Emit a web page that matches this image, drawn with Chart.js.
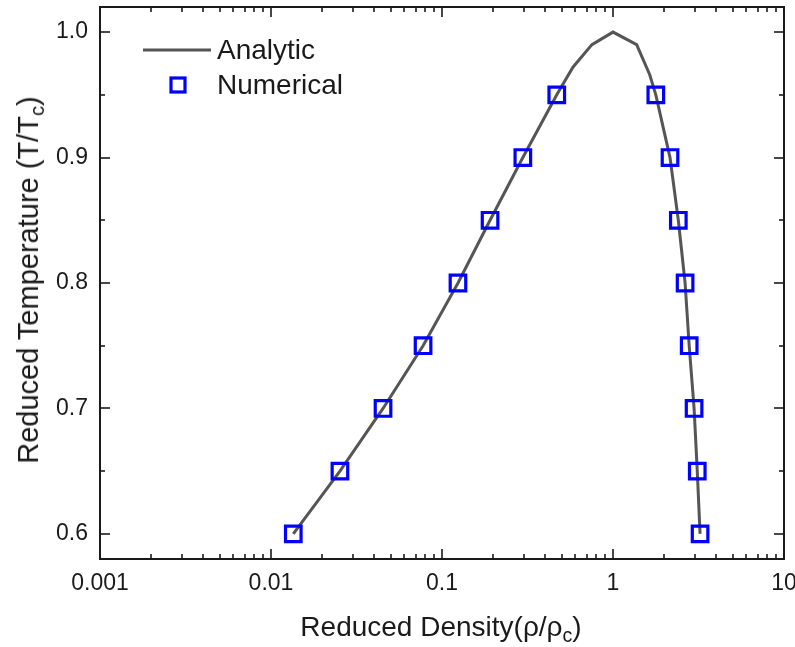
<!DOCTYPE html>
<html>
<head>
<meta charset="utf-8">
<script src="https://cdn.jsdelivr.net/npm/chart.js@4.4.1/dist/chart.umd.min.js"></script>
<style>
  html, body { margin: 0; padding: 0; background: #fff; overflow: hidden; }
  #wrap { position: relative; width: 810px; height: 647px; }
  .title { position: absolute; font-family: "Liberation Sans", Arial, sans-serif; line-height: 28px; color: #1a1a1a; white-space: nowrap; }
  .title sub { font-size: 0.7em; vertical-align: -0.3em; line-height: 0; }
  #xtitle { font-size: 28px; left: 441px; top: 613px; transform: translateX(-50%); }
  #ytitle { font-size: 29px; left: 28px; top: 280px; transform: translate(-50%, -50%) rotate(-90deg); }
</style>
</head>
<body>
<div id="wrap">
  <canvas id="phaseChart" width="810" height="647"></canvas>
  <div class="title" id="xtitle">Reduced Density(ρ/ρ<sub>c</sub>)</div>
  <div class="title" id="ytitle">Reduced Temperature (T/T<sub>c</sub>)</div>
</div>
<script>
// Axis ticks
const xTicks = [0.001, 0.01, 0.1, 1, 10];
const xTickLabels = ['0.001', '0.01', '0.1', '1', '10'];
const yTicks = [0.6, 0.7, 0.8, 0.9, 1.0];
const yMinorTicks = [0.65, 0.75, 0.85, 0.95];

// Numerical points
const numTemps = [0.6, 0.65, 0.7, 0.75, 0.8, 0.85, 0.9, 0.95];
const numGas = [0.0135, 0.0253, 0.0452, 0.0775, 0.124, 0.191, 0.297, 0.469];
const numLiquid = [3.23, 3.11, 2.98, 2.79, 2.64, 2.41, 2.155, 1.78];

// Analytic curve, gas side up to the critical point then down the liquid side
const analyticDensity = [0.0135, 0.0253, 0.0452, 0.0775, 0.124, 0.191, 0.297, 0.469, 0.583, 0.753, 1.0,
                         1.375, 1.64, 1.78, 2.155, 2.41, 2.64, 2.79, 2.98, 3.11, 3.23];
const analyticTemp = [0.6, 0.65, 0.7, 0.75, 0.8, 0.85, 0.9, 0.95, 0.972, 0.99, 1.0,
                      0.99, 0.966, 0.95, 0.9, 0.85, 0.8, 0.75, 0.7, 0.65, 0.6];

const FONT = '"Liberation Sans", Arial, sans-serif';
const INK = '#1a1a1a';

const analyticData = analyticDensity.map((d, i) => ({ x: d, y: analyticTemp[i] }));
const numericalData = numTemps.map((t, i) => ({ x: numGas[i], y: t }))
    .concat(numTemps.map((t, i) => ({ x: numLiquid[i], y: t })));

// box + inward ticks on all four sides
const framePlugin = {
    id: 'frame',
    afterDraw(chart) {
        const { ctx, chartArea: a, scales: { x, y } } = chart;
        ctx.save();
        ctx.strokeStyle = INK;
        const line = (x1, y1, x2, y2) => { ctx.beginPath(); ctx.moveTo(x1, y1); ctx.lineTo(x2, y2); ctx.stroke(); };
        ctx.lineWidth = 1.6;
        xTicks.forEach(v => {
            const px = Math.round(x.getPixelForValue(v));
            line(px, a.bottom, px, a.bottom - 10);
            line(px, a.top, px, a.top + 10);
        });
        xTicks.slice(0, -1).forEach(d => {
            for (let m = 2; m <= 9; m++) {
                const px = Math.round(x.getPixelForValue(d * m));
                line(px, a.bottom, px, a.bottom - 5);
                line(px, a.top, px, a.top + 5);
            }
        });
        yTicks.forEach(v => {
            const py = Math.round(y.getPixelForValue(v));
            line(a.left, py, a.left + 10, py);
            line(a.right, py, a.right - 10, py);
        });
        yMinorTicks.forEach(v => {
            const py = Math.round(y.getPixelForValue(v));
            line(a.left, py, a.left + 5, py);
            line(a.right, py, a.right - 5, py);
        });
        ctx.lineWidth = 2;
        ctx.strokeRect(a.left, a.top, a.right - a.left, a.bottom - a.top);
        ctx.restore();
    }
};

// legend drawn inside the plot, top-left
const legendPlugin = {
    id: 'innerLegend',
    afterDraw(chart) {
        const { ctx, chartArea: a } = chart;
        const ds = chart.data.datasets;
        ctx.save();
        ctx.font = '28px ' + FONT;
        ctx.fillStyle = INK;
        ctx.textBaseline = 'middle';
        // Analytic
        ctx.strokeStyle = ds[0].borderColor;
        ctx.lineWidth = ds[0].borderWidth;
        ctx.beginPath();
        ctx.moveTo(a.left + 43, a.top + 43);
        ctx.lineTo(a.left + 111, a.top + 43);
        ctx.stroke();
        ctx.fillText(ds[0].label, a.left + 117, a.top + 44);
        // Numerical
        ctx.strokeStyle = ds[1].borderColor;
        ctx.lineWidth = ds[1].borderWidth;
        ctx.strokeRect(a.left + 71, a.top + 71, 14, 14);
        ctx.fillText(ds[1].label, a.left + 117, a.top + 79);
        ctx.restore();
    }
};

const ctx = document.getElementById('phaseChart').getContext('2d');
new Chart(ctx, {
    type: 'scatter',
    data: {
        datasets: [{
            label: 'Analytic',
            data: analyticData,
            showLine: true,
            borderColor: '#555555',
            borderWidth: 3,
            pointRadius: 0,
            tension: 0,
            clip: false,
            order: 2
        }, {
            label: 'Numerical',
            data: numericalData,
            showLine: false,
            pointStyle: 'rect',
            pointRadius: 11,
            pointHoverRadius: 11,
            borderColor: '#0000ff',
            backgroundColor: 'rgba(0,0,0,0)',
            borderWidth: 3.2,
            clip: false,
            order: 1
        }]
    },
    options: {
        responsive: false,
        animation: false,
        layout: { autoPadding: false, padding: { top: 7, right: 26, left: 0, bottom: 0 } },
        plugins: {
            legend: { display: false },
            tooltip: { enabled: false }
        },
        scales: {
            x: {
                type: 'logarithmic',
                min: 0.001,
                max: 10,
                grid: { display: false, drawTicks: false },
                border: { display: false },
                afterBuildTicks: scale => { scale.ticks = xTicks.map(v => ({ value: v })); },
                afterFit: scale => { scale.height = 88; scale.paddingLeft = 0; scale.paddingRight = 0; },
                ticks: {
                    autoSkip: false,
                    maxRotation: 0,
                    padding: 11,
                    color: INK,
                    font: { family: FONT, size: 23 },
                    callback: value => xTickLabels[xTicks.indexOf(value)]
                }
            },
            y: {
                min: 0.58,
                max: 1.02,
                grid: { display: false, drawTicks: false },
                border: { display: false },
                afterBuildTicks: scale => { scale.ticks = yTicks.map(v => ({ value: v })); },
                afterFit: scale => { scale.width = 100; scale.paddingTop = 0; scale.paddingBottom = 0; },
                ticks: {
                    autoSkip: false,
                    padding: 12,
                    color: INK,
                    font: { family: FONT, size: 23 },
                    callback: value => value.toFixed(1)
                }
            }
        }
    },
    plugins: [framePlugin, legendPlugin]
});
</script>
</body>
</html>
